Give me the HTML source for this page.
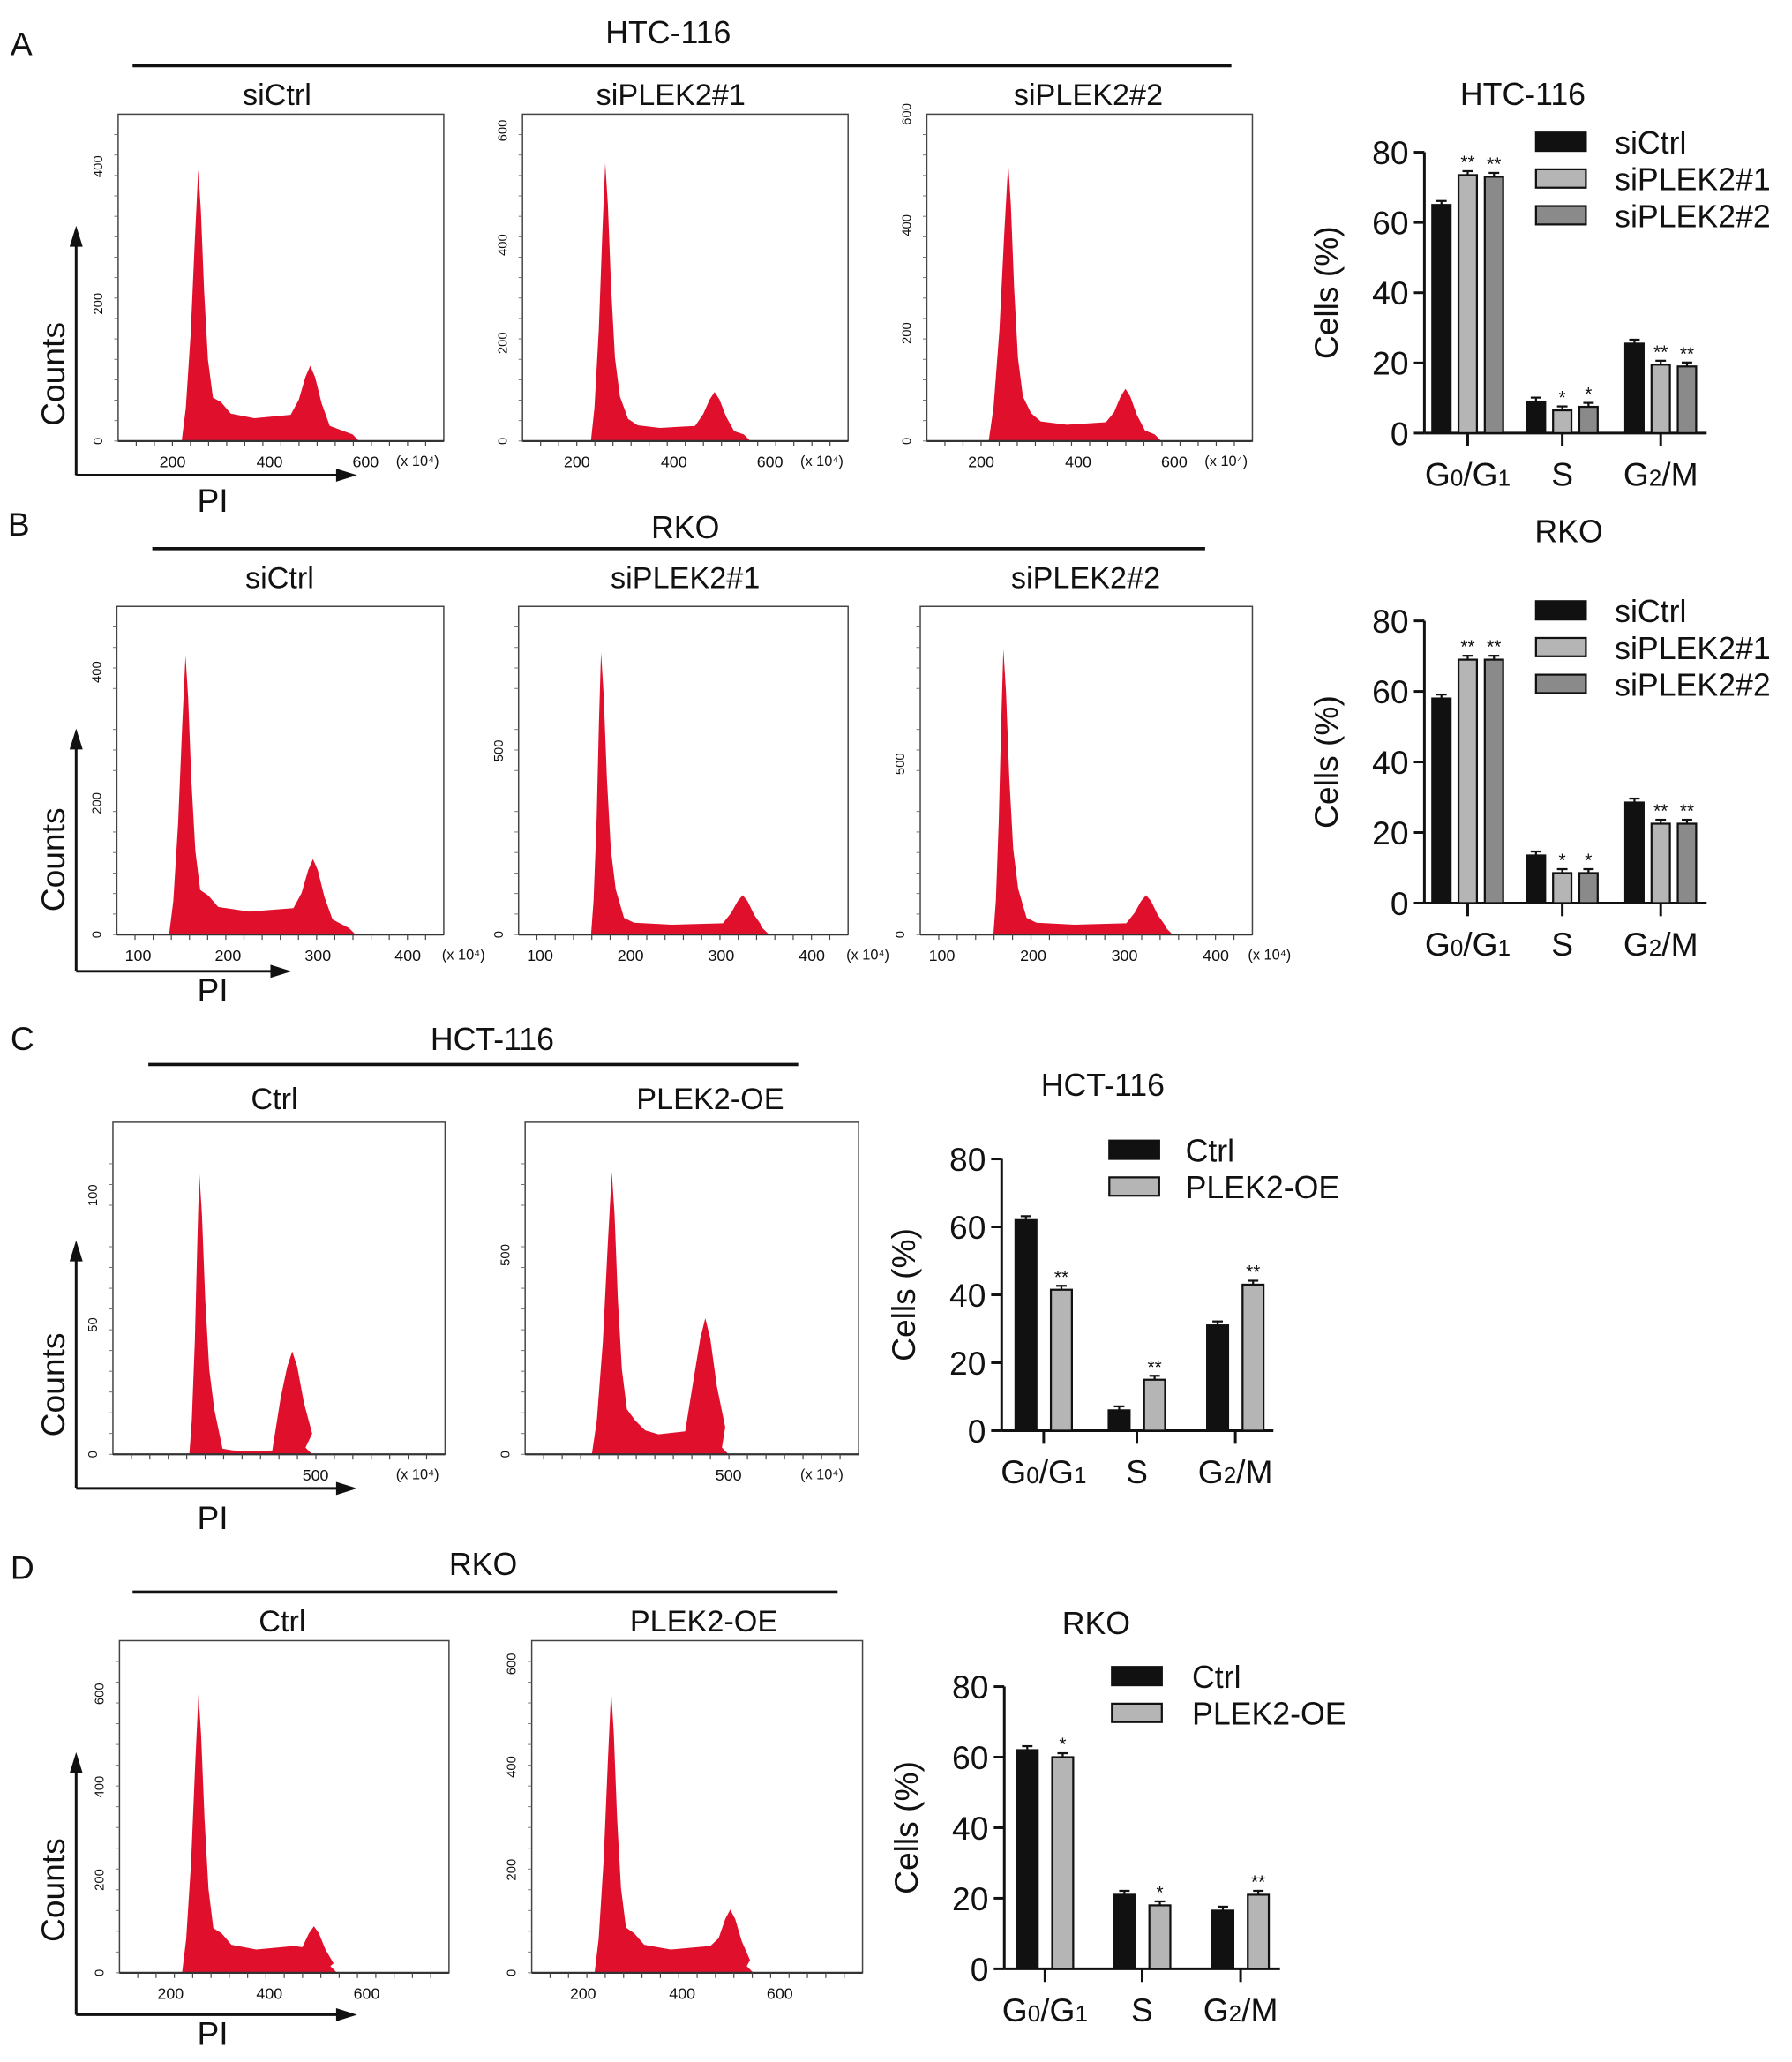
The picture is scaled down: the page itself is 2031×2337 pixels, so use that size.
<!DOCTYPE html>
<html><head><meta charset="utf-8"><style>
html,body{margin:0;padding:0;background:#fff}
svg{display:block}
text{font-family:"Liberation Sans",sans-serif;fill:#111}
</style></head><body>
<svg id="fig" width="2031" height="2337" viewBox="0 0 1365 1571" preserveAspectRatio="none" xmlns="http://www.w3.org/2000/svg"></svg>
<script>
// ---------- bar chart data ----------
const phaseCats = ["G0/G1","S","G2/M"];
const aSeriesNames = ["siCtrl","siPLEK2#1","siPLEK2#2"];
const aValues = [[65,9,25.5],[73.5,6.5,19.5],[73,7.5,19]];
const aStars = [["","",""],["**","*","**"],["**","*","**"]];
const bValues = [[58,13.5,28.5],[69,8.5,22.5],[69,8.5,22.5]];
const bStars = [["","",""],["**","*","**"],["**","*","**"]];
const cSeriesNames = ["Ctrl","PLEK2-OE"];
const cValues = [[62,6,31],[41.5,15,43]];
const cStars = [["","",""],["**","**","**"]];
const dValues = [[62,21,16.5],[60,18,21]];
const dStars = [["","",""],["*","*","**"]];
const yTicks = [0,20,40,60,80];
// ---------- histogram params: [start, g1pos, g1height, plateau, g2pos, g2height, end] (fractions of box) ----------
const histA1 = [0.195,0.246,0.83,0.07,0.59,0.23,0.74];
const histA2 = [0.21,0.254,0.85,0.04,0.59,0.15,0.70];
const histA3 = [0.19,0.25,0.85,0.05,0.61,0.16,0.72];
const histB1 = [0.16,0.21,0.85,0.07,0.60,0.23,0.73];
const histB2 = [0.22,0.25,0.86,0.03,0.68,0.12,0.76];
const histB3 = [0.22,0.25,0.87,0.03,0.68,0.12,0.76];
const histC1 = [0.23,0.26,0.85,0.01,0.54,0.31,0.60];
const histC2 = [0.20,0.26,0.85,0.06,0.54,0.41,0.61];
const histD1 = [0.19,0.24,0.84,0.07,0.59,0.14,0.66];
const histD2 = [0.19,0.24,0.85,0.07,0.60,0.19,0.67];

const svg = document.getElementById('fig');
const NS = "http://www.w3.org/2000/svg";
function mk(tag, attrs, parent){const e=document.createElementNS(NS,tag);for(const k in attrs)e.setAttribute(k,attrs[k]);(parent||svg).appendChild(e);return e;}
function txt(x,y,s,size,anchor,parent,rot){const t=mk('text',{x:x,y:y,'font-size':size,'text-anchor':anchor||'middle'},parent);if(rot)t.setAttribute('transform','rotate(-90 '+x+' '+y+')');t.textContent=s;return t;}
function phaseLabel(x,y,cat,size,parent){
  const t=mk('text',{x:x,y:y,'font-size':size,'text-anchor':'middle'},parent);
  if(cat==="S"){t.textContent="S";return t;}
  const parts=cat==="G0/G1"?[["G",""],["0","s"],["/G",""],["1","s"]]:[["G",""],["2","s"],["/M",""]];
  parts.forEach(p=>{const ts=mk('tspan',{},t);if(p[1])ts.setAttribute('font-size',size*0.7);ts.textContent=p[0];});
  return t;
}

function histogram(name,bx,by,bw,bh,p,xTicks,yLabs,unitX){
  const g=mk('g',{});
  
  
  const fx=f=>bx+f*bw, fy=f=>by+bh-f*bh;
  const [s,g1,h1,pl,g2,h2,e]=p;
  const pts=[[s,0],[s+(g1-s)*0.25,h1*0.12],[s+(g1-s)*0.55,h1*0.4],[s+(g1-s)*0.8,h1*0.75],[g1,h1],[g1+0.008,h1*0.85],[g1+0.018,h1*0.55],[g1+0.03,h1*0.3],[g1+0.045,h1*0.16],[g1+0.07,pl*1.7],[g1+0.1,pl*1.2],[(g1+g2)/2,pl],[g2-0.06,pl*1.15],[g2-0.035,h2*0.55],[g2-0.015,h2*0.85],[g2,h2],[g2+0.015,h2*0.85],[g2+0.035,h2*0.5],[g2+0.06,h2*0.2],[e-0.02,0.02],[e,0]];
  let d='M'+fx(s)+','+fy(0);
  pts.forEach(q=>{d+=' L'+fx(q[0]).toFixed(1)+','+fy(q[1]).toFixed(1);});
  d+=' Z';
  const path=mk('path',{d:d,fill:'#e0102c'},g);
  
  
  const box=mk('rect',{x:bx,y:by,width:bw,height:bh,fill:'none',stroke:'#444','stroke-width':1},g);
  
  
  mk('line',{x1:bx,y1:by+bh,x2:bx+bw,y2:by+bh,stroke:'#333','stroke-width':1.5},g);
  for(let i=1;i<18;i++){mk('line',{x1:bx+i*bw/18,y1:by+bh,x2:bx+i*bw/18,y2:by+bh+4,stroke:'#444','stroke-width':0.8},g);}
  for(let i=0;i<16;i++){mk('line',{x1:bx,y1:by+bh-i*bh/16,x2:bx-3,y2:by+bh-i*bh/16,stroke:'#666','stroke-width':0.6},g);}
  xTicks.forEach(t=>{txt(fx(t[0]),by+bh+20,t[1],12,'middle',g);});
  if(unitX)txt(bx+unitX,by+bh+19,'(x 10\u2074)',11,'middle',g);
  yLabs.forEach(t=>{txt(bx-12,fy(t[0]),t[1],10,'middle',g,true);});
}

function barChart(name,ax,yTop,y0,xEnd,groupCenters,values,stars,names,colors,barW,gap,legendX,legendY,legendTextX,title,titleX,titleY){
  const g=mk('g',{});
  
  
  const yScale=v=>y0-(v/80)*(y0-yTop);
  txt(titleX,titleY,title,24,'middle',g);
  mk('line',{x1:ax,y1:yTop,x2:ax,y2:y0,stroke:'#111','stroke-width':2},g);
  mk('line',{x1:ax,y1:y0,x2:xEnd,y2:y0,stroke:'#111','stroke-width':2},g);
  yTicks.forEach(v=>{mk('line',{x1:ax-8,y1:yScale(v),x2:ax,y2:yScale(v),stroke:'#111','stroke-width':2},g);txt(ax-12,yScale(v)+9,String(v),25,'end',g);});
  const yl=txt(ax-66,(yTop+y0)/2,'Cells (%)',25,'middle',g,true);
  
  const n=values.length;
  phaseCats.forEach((c,ci)=>{
    const cx=groupCenters[ci];
    mk('line',{x1:cx,y1:y0,x2:cx,y2:y0+10,stroke:'#111','stroke-width':2},g);
    const pl=phaseLabel(cx,y0+40,c,25,g);
    
    
    for(let si=0;si<n;si++){
      const x=cx-(n*barW+(n-1)*gap)/2+si*(barW+gap);
      const v=values[si][ci];
      const r=mk('rect',{x:x,y:yScale(v),width:barW,height:y0-yScale(v),fill:colors[si],stroke:'#111','stroke-width':1.5},g);
      
      
      mk('line',{x1:x+barW/2,y1:yScale(v)-3,x2:x+barW/2,y2:yScale(v),stroke:'#111','stroke-width':1.5},g);
      mk('line',{x1:x+barW/2-4,y1:yScale(v)-3,x2:x+barW/2+4,y2:yScale(v)-3,stroke:'#111','stroke-width':1.5},g);
      if(stars[si][ci])txt(x+barW/2,yScale(v)-5,stars[si][ci],14,'middle',g);
    }
  });
  names.forEach((nm,i)=>{
    const ly=legendY+i*28;
    const lr=mk('rect',{x:legendX,y:ly-7,width:38,height:14,fill:colors[i],stroke:'#111','stroke-width':1.5},g);
    
    
    const lt=txt(legendTextX,ly+9,nm,24,'start',g);
    
    
  });
}

function axesArrows(x,yTop,yBot,xRight,countsY,piY){
  const g=mk('g',{});
  
  
  mk('line',{x1:x,y1:yBot,x2:x,y2:yTop+14,stroke:'#111','stroke-width':2},g);
  mk('polygon',{points:(x-5)+','+(yTop+16)+' '+(x+5)+','+(yTop+16)+' '+x+','+yTop,fill:'#111'},g);
  mk('line',{x1:x,y1:yBot,x2:xRight-14,y2:yBot,stroke:'#111','stroke-width':2},g);
  mk('polygon',{points:(xRight-16)+','+(yBot-5)+' '+(xRight-16)+','+(yBot+5)+' '+xRight+','+yBot,fill:'#111'},g);
  txt(49,countsY,'Counts',25,'middle',g,true);
  txt(162,piY,'PI',25,'middle',g);
}
function header(label,lx,ly,title,tx,ty,l1,l2,lineY){
  txt(lx,ly,label,25,'start');
  txt(tx,ty,title,24,'middle');
  mk('line',{x1:l1,y1:lineY,x2:l2,y2:lineY,stroke:'#111','stroke-width':2.5});
}
const colors3=['#111','#b5b5b5','#8a8a8a'];
const colors2=['#111','#b5b5b5'];

// Panel A
header('A',8,42,'HTC-116',509,33,101,938,50);
txt(211,80,'siCtrl',23);txt(511,80,'siPLEK2#1',23);txt(829,80,'siPLEK2#2',23);
const tA=[[0.167,'200'],[0.465,'400'],[0.76,'600']];
histogram('histogram-a-sictrl',90,87,248,249,histA1,tA,[[0,'0'],[0.42,'200'],[0.84,'400']],228);
histogram('histogram-a-siplek2-1',398,87,248,249,histA2,tA,[[0,'0'],[0.3,'200'],[0.6,'400'],[0.95,'600']],228);
histogram('histogram-a-siplek2-2',706,87,248,249,histA3,tA,[[0,'0'],[0.33,'200'],[0.66,'400'],[1.0,'600']],228);
axesArrows(58,172,362,272,285,390);
barChart('bar-chart-a',1085,116,330,1300,[1118,1190,1265],aValues,aStars,aSeriesNames,colors3,14,6,1170,108,1230,'HTC-116',1160,80);

// Panel B
header('B',6,408,'RKO',522,410,116,918,418);
txt(213,448,'siCtrl',23);txt(522,448,'siPLEK2#1',23);txt(827,448,'siPLEK2#2',23);
const tB=[[0.065,'100'],[0.34,'200'],[0.615,'300'],[0.89,'400']];
histogram('histogram-b-sictrl',89,462,249,250,histB1,tB,[[0,'0'],[0.4,'200'],[0.8,'400']],264);
histogram('histogram-b-siplek2-1',395,462,251,250,histB2,tB,[[0,'0'],[0.56,'500']],266);
histogram('histogram-b-siplek2-2',701,462,253,250,histB3,tB,[[0,'0'],[0.52,'500']],266);
axesArrows(58,555,740,222,655,763);
barChart('bar-chart-b',1085,473,688,1300,[1118,1190,1265],bValues,bStars,aSeriesNames,colors3,14,6,1170,465,1230,'RKO',1195,413);

// Panel C
header('C',8,800,'HCT-116',375,800,113,608,811);
txt(209,845,'Ctrl',23);txt(541,845,'PLEK2-OE',23);
histogram('histogram-c-ctrl',86,855,253,253,histC1,[[0.61,'500']],[[0,'0'],[0.39,'50'],[0.78,'100']],232);
histogram('histogram-c-plek2-oe',400,855,254,253,histC2,[[0.61,'500']],[[0,'0'],[0.6,'500']],226);
axesArrows(58,945,1134,272,1055,1165);
barChart('bar-chart-c',763,883,1090,970,[795,866,941],cValues,cStars,cSeriesNames,colors2,16,11,845,876,903,'HCT-116',840,835);

// Panel D
header('D',8,1203,'RKO',368,1200,101,638,1213);
txt(215,1243,'Ctrl',23);txt(536,1243,'PLEK2-OE',23);
const tD=[[0.155,'200'],[0.455,'400'],[0.75,'600']];
histogram('histogram-d-ctrl',91,1250,251,253,histD1,tD,[[0,'0'],[0.28,'200'],[0.56,'400'],[0.84,'600']],0);
histogram('histogram-d-plek2-oe',405,1250,252,253,histD2,tD,[[0,'0'],[0.31,'200'],[0.62,'400'],[0.93,'600']],0);
axesArrows(58,1335,1535,272,1440,1558);
barChart('bar-chart-d',765,1285,1500,975,[796,870,945],dValues,dStars,cSeriesNames,colors2,16,11,847,1277,908,'RKO',835,1245);
</script>
</body></html>
